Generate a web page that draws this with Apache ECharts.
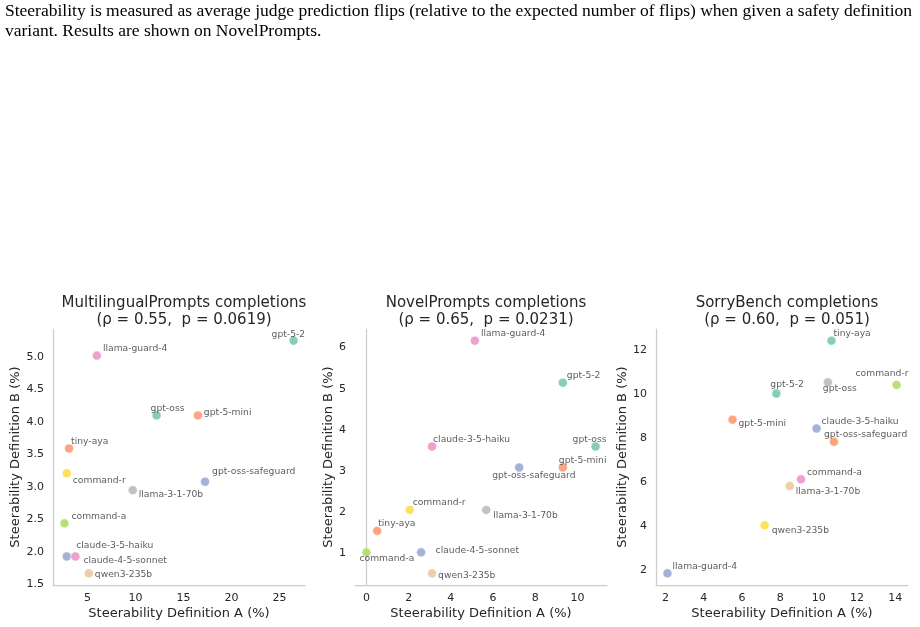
<!DOCTYPE html>
<html>
<head>
<meta charset="utf-8">
<script src="https://cdn.jsdelivr.net/npm/echarts@6/dist/echarts.min.js"></script>
<style>html,body{margin:0;padding:0;background:#fff}#c{width:920px;height:627px}</style>
</head>
<body>
<div id="c"></div>
<script>
// ---- Data ----
const captionLines = [
  'Steerability is measured as average judge prediction flips (relative to the expected number of flips) when given a safety definition',
  'variant. Results are shown on NovelPrompts.'
];
const panelTitles = [
  'MultilingualPrompts completions\n(ρ = 0.55,  p = 0.0619)',
  'NovelPrompts completions\n(ρ = 0.65,  p = 0.0231)',
  'SorryBench completions\n(ρ = 0.60,  p = 0.051)'
];
const xAxisTitle = 'Steerability Definition A (%)';
const yAxisTitle = 'Steerability Definition B (%)';

// Panel 1: MultilingualPrompts
const p1Names = ['gpt-5-2','llama-guard-4','gpt-oss','gpt-5-mini','tiny-aya','command-r','gpt-oss-safeguard','llama-3-1-70b','command-a','claude-3-5-haiku','claude-4-5-sonnet','qwen3-235b'];
const p1A = [26.47, 5.98, 12.2, 16.5, 3.08, 2.84, 17.25, 9.71, 2.6, 2.84, 3.74, 5.14];
const p1B = [5.25, 5.02, 4.1, 4.1, 3.59, 3.21, 3.08, 2.95, 2.44, 1.93, 1.93, 1.67];
const p1XTicks = [5, 10, 15, 20, 25];
const p1YTicks = [1.5, 2.0, 2.5, 3.0, 3.5, 4.0, 4.5, 5.0];

// Panel 2: NovelPrompts
const p2Names = ['llama-guard-4','gpt-5-2','claude-3-5-haiku','gpt-oss','gpt-oss-safeguard','gpt-5-mini','command-r','llama-3-1-70b','tiny-aya','command-a','claude-4-5-sonnet','qwen3-235b'];
const p2A = [5.14, 9.31, 3.11, 10.86, 7.24, 9.31, 2.05, 5.68, 0.51, 0.0, 2.59, 3.11];
const p2B = [6.17, 5.15, 3.6, 3.6, 3.09, 3.09, 2.06, 2.06, 1.55, 1.03, 1.03, 0.52];
const p2XTicks = [0, 2, 4, 6, 8, 10];
const p2YTicks = [1, 2, 3, 4, 5, 6];

// Panel 3: SorryBench
const p3Names = ['tiny-aya','command-r','gpt-oss','gpt-5-2','gpt-5-mini','claude-3-5-haiku','gpt-oss-safeguard','command-a','llama-3-1-70b','qwen3-235b','llama-guard-4'];
const p3A = [10.67, 14.07, 10.48, 7.79, 5.5, 9.89, 10.8, 9.08, 8.49, 7.18, 2.1];
const p3B = [12.42, 10.41, 10.53, 10.02, 8.83, 8.43, 7.83, 6.12, 5.82, 4.03, 1.85];
const p3XTicks = [2, 4, 6, 8, 10, 12, 14];
const p3YTicks = [2, 4, 6, 8, 10, 12];

// ---- Styling (colours and label placement) ----
const C = {green:'#66c2a5', orange:'#fc8d62', blue:'#8da0cb', pink:'#e78ac3', lime:'#a6d854', yellow:'#ffd92f', tan:'#e5c494', grey:'#b3b3b3'};
const p1Colors = [C.green,C.pink,C.green,C.orange,C.orange,C.yellow,C.blue,C.grey,C.lime,C.blue,C.pink,C.tan];
const p2Colors = [C.pink,C.green,C.pink,C.green,C.blue,C.orange,C.yellow,C.grey,C.orange,C.lime,C.blue,C.tan];
const p3Colors = [C.green,C.lime,C.grey,C.green,C.orange,C.blue,C.orange,C.pink,C.tan,C.yellow,C.blue];
const p1LabelOff = [[-22,-6],[6,-7],[-6,-7],[6,-3],[2,-7],[6,7],[7,-10],[6,4],[7,-7],[9.5,-10.5],[8,4],[6,1]];
const p2LabelOff = [[6,-7],[4,-7],[1,-7],[-23,-7],[-27,8.5],[-4,-7],[3,-7],[7,6],[1,-7],[-7,6.5],[14.5,-1.5],[6,2]];
const p3LabelOff = [[2,-7],[-41,-11.5],[-5,6.5],[-6,-8.5],[6,4],[5,-7],[-10,-7],[6,-7],[6,6],[7,5],[5,-7]];

const grids = [
  {left: 53, top: 329, width: 252, height: 256},
  {left: 355, top: 329, width: 252, height: 256},
  {left: 656, top: 329, width: 252, height: 256}
];
const yNameGaps = [23, 13, 20.5];

const panels = [
  {names:p1Names, A:p1A, B:p1B, colors:p1Colors, off:p1LabelOff, xt:p1XTicks, yt:p1YTicks, ydec:1},
  {names:p2Names, A:p2A, B:p2B, colors:p2Colors, off:p2LabelOff, xt:p2XTicks, yt:p2YTicks, ydec:0},
  {names:p3Names, A:p3A, B:p3B, colors:p3Colors, off:p3LabelOff, xt:p3XTicks, yt:p3YTicks, ydec:0}
];

function padded(arr) {
  const mn = Math.min(...arr), mx = Math.max(...arr);
  const m = (mx - mn) * 0.05;
  return [mn - m, mx + m];
}

const FONT = 'DejaVu Sans';
const TXT = '#262626';
const AXC = '#cccccc';

// caption: stretch horizontally so that line 1 spans the page width like the reference
const CAP_FONT = '16px "Liberation Serif", "Times New Roman", serif';
const mctx = document.createElement('canvas').getContext('2d');
mctx.font = CAP_FONT;
const capScale = 907 / mctx.measureText(captionLines[0]).width;

const option = {
  animation: false,
  backgroundColor: '#fff',
  title: panelTitles.map((t, i) => ({
    text: t,
    left: grids[i].left + grids[i].width / 2,
    top: 290,
    textAlign: 'center',
    textStyle: {fontFamily: FONT, fontSize: 15, fontWeight: 'normal', color: TXT, lineHeight: 17}
  })),
  graphic: captionLines.map((line, i) => ({
    type: 'text', x: 5, y: 4 + i * 20, scaleX: capScale,
    style: {text: line, font: CAP_FONT, fill: '#000'}
  })),
  grid: grids,
  xAxis: panels.map((p, i) => {
    const r = padded(p.A);
    return {
      type: 'value', gridIndex: i, min: r[0], max: r[1],
      name: xAxisTitle, nameLocation: 'middle', nameGap: 22,
      nameTextStyle: {fontFamily: FONT, fontSize: 13, color: TXT},
      axisLine: {show: true, lineStyle: {color: AXC, width: 1.25}},
      axisTick: {show: false},
      splitLine: {show: false},
      axisLabel: {customValues: p.xt, fontFamily: FONT, fontSize: 11, color: TXT, margin: 8,
        formatter: v => String(Math.round(v))}
    };
  }),
  yAxis: panels.map((p, i) => {
    const r = padded(p.B);
    return {
      type: 'value', gridIndex: i, min: r[0], max: r[1],
      name: yAxisTitle, nameLocation: 'middle', nameGap: yNameGaps[i],
      nameTextStyle: {fontFamily: FONT, fontSize: 13, color: TXT},
      axisLine: {show: true, lineStyle: {color: AXC, width: 1.25}},
      axisTick: {show: false},
      splitLine: {show: false},
      axisLabel: {customValues: p.yt, fontFamily: FONT, fontSize: 11, color: TXT, margin: 9,
        formatter: v => v.toFixed(p.ydec)}
    };
  }),
  series: panels.map((p, i) => ({
    type: 'scatter', xAxisIndex: i, yAxisIndex: i,
    symbol: 'circle', symbolSize: 9,
    data: p.names.map((n, j) => ({
      name: n, value: [p.A[j], p.B[j]],
      itemStyle: {color: p.colors[j], borderColor: '#fff', borderWidth: 0.6},
      label: {
        show: true, formatter: n, position: 'inside', align: 'left', verticalAlign: 'middle',
        offset: p.off[j], fontFamily: FONT, fontSize: 9.2, color: '#333333',
        textBorderWidth: 0
      }
    }))
  }))
};

const chart = echarts.init(document.getElementById('c'), null, {renderer: 'canvas'});
chart.setOption(option);
</script>
</body>
</html>
